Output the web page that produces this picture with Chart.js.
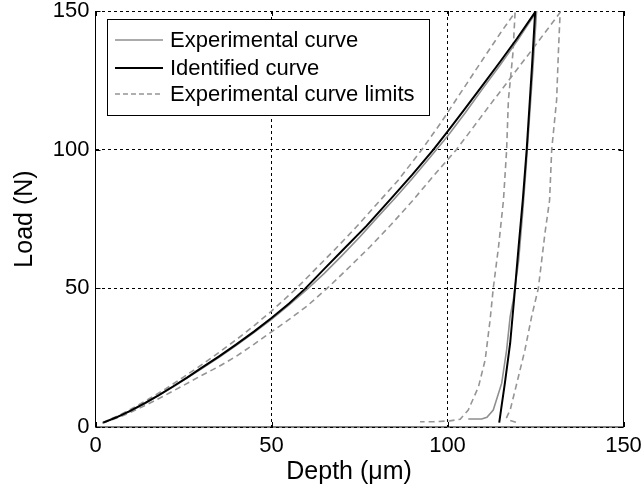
<!DOCTYPE html>
<html><head><meta charset="utf-8">
<script src="https://cdn.jsdelivr.net/npm/chart.js@4.4.0/dist/chart.umd.min.js"></script>
<style>html,body{margin:0;padding:0;background:#fff;} canvas{display:block;}</style>
</head><body>
<canvas id="c" width="642" height="492"></canvas>
<script>
// ---- data ----
const xTicks = [0, 50, 100, 150];
const yTicks = [0, 50, 100, 150];
const xTitle = "Depth (\u03bcm)\u00a0\u00a0\u00a0";
const yTitle = "Load (N)";
const legendLabels = ["Experimental curve", "Identified curve", "Experimental curve limits"];

// Experimental curve (grey solid): loading then unloading
const expDepth = [2, 6, 10, 14, 18, 22, 26, 30, 35, 40, 45, 50, 55, 60, 65, 70, 75, 80, 85, 90, 95, 100, 105, 110, 115, 120, 125.3,
                  124.3, 123.2, 122.4, 121.4, 120.2, 118.7, 117.8, 116.8, 115.4, 113, 111.2, 109.7, 105.9];
const expLoad  = [1.4, 3.6, 5.8, 8.4, 11.4, 14.4, 17.6, 20.9, 25.0, 29.4, 34.0, 38.8, 44.0, 49.5, 55.4, 61.8, 68.4, 75.5, 82.4, 89.6, 97.2, 104.8, 113.2, 122.0, 130.6, 139.6, 149.8,
                  130, 110, 95, 78, 60, 45.8, 39.8, 27.8, 15.8, 6.1, 3.5, 2.9, 2.9];

// Identified curve (black solid)
const idDepth = [2.2, 6, 10, 14, 18, 22, 26, 30, 35, 40, 45, 50, 55, 59.5, 65, 70.4, 77, 83.7, 90, 96, 100, 104.5, 110, 115, 119.7, 124.9,
                 124, 123.5, 122.5, 121.4, 120.2, 118.9, 117.8, 116.3, 115.3, 114.7];
const idLoad  = [1.6, 3.5, 5.9, 8.6, 11.5, 14.6, 17.8, 21.2, 25.4, 29.8, 34.4, 39.3, 44.5, 49.8, 57, 64, 72.5, 82, 91, 100, 106.5, 114, 123.3, 131.8, 140, 149.6,
                 130, 120, 100, 82, 65, 45.8, 30.2, 15.8, 7, 1.6];

// Experimental curve limits (grey dashed): upper limit
const upDepth = [2, 6, 10, 15, 20, 25, 30, 35, 40, 45, 50, 56.7, 62, 68, 74, 80, 86, 92.7, 98, 104, 110, 115, 119.2,
                 118.6, 117.3, 116.8, 115.9, 114.5, 113, 112.1, 110.7, 108.8, 105.9, 103.6, 100.7, 96, 92.2];
const upLoad  = [1.6, 3.8, 6.4, 10, 13.8, 18, 22.3, 26.8, 31.5, 36.5, 41.8, 49.5, 56.3, 64, 72, 80.5, 89, 100, 109.5, 121, 132.5, 142, 149.5,
                 135, 117.9, 100, 81.8, 65, 50, 38.6, 24.2, 14.5, 6.1, 2.8, 2.2, 1.9, 1.9];

// Experimental curve limits (grey dashed): lower limit
const loDepth = [2, 6, 10, 15, 20, 25, 30, 35, 40, 45, 50, 55, 60, 65.8, 72, 78, 84, 90, 96, 102.5, 106.4, 112, 118, 124, 132,
                 131.5, 131, 129.6, 129, 127.7, 125.8, 123.9, 122, 119.7, 117.8, 116.8, 117.5, 119.7];
const loLoad  = [1.4, 3.2, 5.3, 8.3, 11.6, 15, 18.5, 21.8, 25.5, 29.8, 34.3, 38.8, 43.5, 50, 57.5, 65, 73, 81.5, 90.5, 100, 106.5, 116, 126, 136, 149.5,
                 135, 117.9, 100, 81.8, 70, 50, 39.8, 27.8, 15.8, 6.1, 3.5, 2.5, 1.6];

function pts(xs, ys) { return xs.map((x, i) => ({ x: x, y: ys[i] })); }

const FONT = "'Liberation Sans', Arial, Helvetica, sans-serif";
Chart.defaults.font.family = FONT;
Chart.defaults.color = '#000';

const GREY = '#8f8f8f';
const DASH_GREY = '#959595';

const frameLegend = {
  id: 'frameLegend',
  afterDatasetsDraw(chart) {
    const { ctx, chartArea: a, scales } = chart;
    ctx.save();
    // frame
    ctx.strokeStyle = '#000';
    ctx.lineWidth = 1;
    ctx.setLineDash([]);
    ctx.beginPath();
    ctx.moveTo(a.left, a.top); ctx.lineTo(a.left, a.bottom); ctx.lineTo(a.right, a.bottom); ctx.lineTo(a.right, a.top);
    ctx.stroke();
    // inward ticks
    ctx.beginPath();
    xTicks.forEach(v => {
      const x = Math.round(scales.x.getPixelForValue(v)) + 0.5;
      ctx.moveTo(x, a.bottom); ctx.lineTo(x, a.bottom - 5);
      ctx.moveTo(x, a.top); ctx.lineTo(x, a.top + 5);
    });
    yTicks.forEach(v => {
      const y = Math.round(scales.y.getPixelForValue(v)) + 0.5;
      ctx.moveTo(a.left, y); ctx.lineTo(a.left + 5, y);
      ctx.moveTo(a.right, y); ctx.lineTo(a.right - 5, y);
    });
    ctx.stroke();

    // legend box
    const bx = 107.5, by = 19.5, bw = 322, bh = 96;
    ctx.fillStyle = '#fff';
    ctx.fillRect(bx, by, bw, bh);
    ctx.strokeStyle = '#000';
    ctx.lineWidth = 1;
    ctx.strokeRect(bx, by, bw, bh);
    const rows = [40, 68, 94];
    const styles = [
      { c: GREY, w: 1.6, d: [] },
      { c: '#000', w: 2, d: [] },
      { c: DASH_GREY, w: 1.6, d: [5, 3] }
    ];
    ctx.font = '22px ' + FONT;
    ctx.textBaseline = 'middle';
    ctx.textAlign = 'left';
    rows.forEach((y, i) => {
      const s = styles[i];
      ctx.strokeStyle = s.c; ctx.lineWidth = s.w; ctx.setLineDash(s.d);
      ctx.beginPath(); ctx.moveTo(115, y); ctx.lineTo(163, y); ctx.stroke();
      ctx.setLineDash([]);
      ctx.fillStyle = '#000';
      ctx.fillText(legendLabels[i], 170, y + 1);
    });
    ctx.restore();
  }
};

new Chart(document.getElementById('c'), {
  type: 'scatter',
  data: {
    datasets: [
      { label: legendLabels[1], data: pts(idDepth, idLoad), showLine: true, borderColor: '#000', borderWidth: 2, pointRadius: 0, tension: 0, order: 1 },
      { label: legendLabels[0], data: pts(expDepth, expLoad), showLine: true, borderColor: GREY, borderWidth: 1.6, pointRadius: 0, tension: 0, order: 2 },
      { label: legendLabels[2], data: pts(upDepth, upLoad), showLine: true, borderColor: DASH_GREY, borderWidth: 1.6, borderDash: [6, 4], pointRadius: 0, tension: 0, order: 3 },
      { label: legendLabels[2] + ' (lower)', data: pts(loDepth, loLoad), showLine: true, borderColor: DASH_GREY, borderWidth: 1.6, borderDash: [6, 4], pointRadius: 0, tension: 0, order: 4 }
    ]
  },
  options: {
    responsive: false,
    animation: false,
    devicePixelRatio: 1,
    layout: { padding: { top: 11, right: 18.5, bottom: 0, left: 0 } },
    plugins: { legend: { display: false }, tooltip: { enabled: false } },
    scales: {
      x: {
        type: 'linear', min: 0, max: 150,
        afterBuildTicks: s => { s.ticks = xTicks.map(v => ({ value: v })); },
        afterFit: s => { s.height = 65; s.paddingLeft = 0; s.paddingRight = 0; },
        ticks: { font: { size: 22 }, color: '#000', padding: 6, maxRotation: 0 },
        grid: { color: '#000', lineWidth: 1, drawTicks: false },
        border: { display: false, dash: [3, 3] },
        title: { display: true, text: xTitle, font: { size: 25 }, color: '#000', padding: { top: 0, bottom: 5 } }
      },
      y: {
        type: 'linear', min: 0, max: 150,
        afterBuildTicks: s => { s.ticks = yTicks.map(v => ({ value: v })); },
        afterFit: s => { s.width = 95.5; s.paddingTop = 0; s.paddingBottom = 0; },
        ticks: { font: { size: 22 }, color: '#000', padding: 6 },
        grid: { color: '#000', lineWidth: 1, drawTicks: false },
        border: { display: false, dash: [3, 3] },
        title: { display: true, text: yTitle, font: { size: 25 }, color: '#000', padding: { top: 10, bottom: 0 } }
      }
    }
  },
  plugins: [frameLegend]
});
</script>
</body></html>
